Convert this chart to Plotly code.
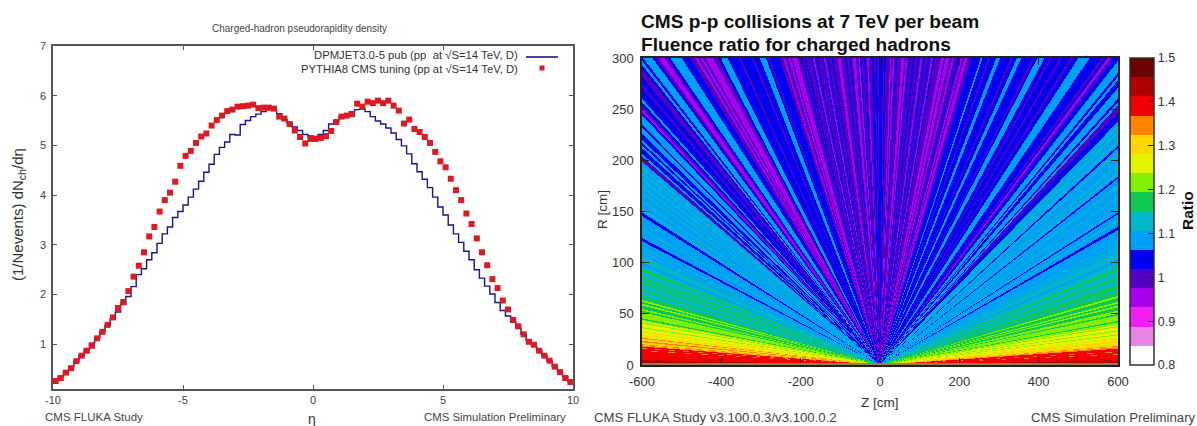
import numpy as np
import plotly.graph_objects as go

W, H = 1197, 426
FONT = "Liberation Sans"

# ---------- left panel data ----------
eta_centres = [round(-9.9 + 0.2 * i, 1) for i in range(100)]
dpmjet = [
    .27, .36, .45, .55, .66, .78, .90, 1.02, 1.13, 1.25,
    1.38, 1.51, 1.65, 1.80, 1.96, 2.16, 2.40, 2.52, 2.70, 2.84,
    3.03, 3.22, 3.36, 3.55, 3.67, 3.80, 3.96, 4.12, 4.28, 4.46,
    4.62, 4.82, 4.96, 5.07, 5.22, 5.21, 5.42, 5.50, 5.58, 5.63,
    5.68, 5.72, 5.72, 5.64, 5.52, 5.45, 5.37, 5.30, 5.22, 5.19,
    5.18, 5.22, 5.30, 5.43, 5.50, 5.59, 5.62, 5.68, 5.72, 5.73,
    5.68, 5.58, 5.49, 5.43, 5.35, 5.25, 5.12, 4.99, 4.83, 4.63,
    4.47, 4.32, 4.15, 3.96, 3.76, 3.60, 3.40, 3.22, 3.05, 2.87,
    2.70, 2.50, 2.33, 2.17, 2.01, 1.84, 1.68, 1.57, 1.44, 1.33,
    1.20, 1.08, .98, .87, .77, .66, .55, .45, .35, .26,
]
pythia = [
    .26, .32, .43, .52, .66, .77, .87, .97, 1.12, 1.25,
    1.39, 1.54, 1.73, 1.85, 2.07, 2.36, 2.58, 2.85, 3.17, 3.36,
    3.67, 3.90, 4.05, 4.27, 4.59, 4.79, 4.89, 5.05, 5.18, 5.24,
    5.40, 5.51, 5.60, 5.69, 5.72, 5.78, 5.79, 5.80, 5.82, 5.75,
    5.76, 5.76, 5.74, 5.58, 5.54, 5.43, 5.30, 5.17, 5.04, 5.13,
    5.13, 5.15, 5.19, 5.29, 5.47, 5.58, 5.60, 5.63, 5.84, 5.78,
    5.88, 5.85, 5.90, 5.85, 5.90, 5.80, 5.70, 5.44, 5.52, 5.33,
    5.27, 5.17, 5.05, 4.87, 4.68, 4.56, 4.33, 4.10, 3.90, 3.63,
    3.42, 3.13, 2.85, 2.59, 2.31, 2.13, 1.88, 1.70, 1.49, 1.36,
    1.20, 1.05, .99, .87, .77, .67, .55, .44, .32, .24,
]
eta_ticks = [-10, -5, 0, 5, 10]
eta_labels = ["-10", "-5", "0", "5", "10"]
dn_ticks = [1, 2, 3, 4, 5, 6, 7]

# ---------- right panel data: ratio read along rays, per pseudorapidity bin ----------
fine_width = 0.012     # |eta| below 2.4
coarse_width = 0.03    # |eta| from 2.4 upwards
fine_limit = 2.4
ratio_fine_pos = [
    1.04, 1.04, 1.00, 1.04, 1.00, 1.00, 1.00, .95, 1.00, .95,
    1.00, 1.04, 1.00, 1.00, 1.00, .95, .95, 1.00, .95, 1.00,
    1.04, 1.00, 1.00, 1.04, 1.00, 1.00, 1.04, 1.00, .95, 1.00,
    1.04, 1.00, 1.00, 1.04, 1.00, .95, 1.04, 1.00, 1.00, 1.00,
    1.00, .95, .95, 1.00, .95, .95, 1.00, 1.00, .95, 1.00,
    1.00, 1.04, 1.00, .95, 1.00, .95, .95, 1.00, 1.00, 1.04,
    1.04, 1.04, 1.04, 1.04, 1.08, 1.04, 1.04, 1.04, 1.00, 1.04,
    1.04, 1.04, 1.08, 1.08, 1.04, 1.04, 1.04, 1.04, 1.04, 1.00,
    1.04, 1.04, 1.08, 1.08, 1.04, 1.04, 1.04, 1.04, 1.04, 1.00,
    1.04, 1.08, 1.08, 1.08, 1.04, 1.04, 1.00, 1.04, 1.04, 1.04,
    1.00, 1.04, 1.04, 1.04, 1.00, 1.04, 1.04, 1.08, 1.08, 1.08,
    1.08, 1.04, 1.04, 1.04, 1.04, 1.00, 1.04, .95, 1.00, 1.04,
    1.04, 1.08, 1.08, 1.08, 1.04, 1.08, 1.04, 1.04, 1.08, 1.08,
    1.08, 1.04, 1.08, 1.00, 1.00, 1.04, 1.04, 1.04, 1.08, 1.13,
    1.08, 1.13, 1.08, 1.08, 1.13, 1.08, 1.04, 1.08, 1.13, 1.08,
    1.08, 1.08, 1.08, 1.13, 1.08, 1.08, 1.13, 1.08, 1.04, 1.08,
    1.08, 1.08, 1.13, 1.08, 1.08, 1.08, 1.08, 1.13, 1.08, 1.08,
    1.08, 1.08, 1.08, 1.13, 1.08, 1.04, 1.08, 1.08, 1.08, 1.13,
    1.08, 1.08, 1.08, 1.04, 1.04, 1.08, 1.08, 1.08, 1.08, 1.08,
    1.08, 1.08, 1.08, 1.13, 1.08, 1.08, 1.13, 1.08, 1.13, 1.08,
]
ratio_fine_neg = [
    1.04, 1.00, 1.04, 1.00, 1.04, 1.04, 1.00, 1.00, .95, 1.00,
    1.04, 1.00, 1.00, 1.04, .95, 1.00, 1.00, .95, .95, 1.00,
    1.04, 1.00, 1.00, 1.04, 1.00, 1.00, 1.00, .95, .95, 1.00,
    1.00, 1.00, 1.04, 1.00, 1.00, 1.04, 1.00, .95, 1.04, 1.00,
    1.00, 1.00, 1.04, 1.00, .95, 1.04, 1.00, 1.00, 1.00, 1.04,
    1.00, 1.04, 1.00, 1.00, .95, .95, .95, 1.00, .95, 1.00,
    1.00, .95, 1.00, 1.00, 1.04, 1.04, 1.04, 1.04, 1.04, 1.00,
    1.04, 1.08, 1.08, 1.08, 1.04, 1.04, 1.04, 1.00, 1.04, 1.04,
    1.04, 1.04, 1.04, 1.00, 1.04, 1.04, 1.04, 1.04, 1.04, 1.08,
    1.08, 1.08, 1.04, 1.00, 1.00, .95, .95, .95, 1.00, .95,
    1.00, .95, 1.00, 1.00, 1.04, 1.04, 1.04, 1.08, 1.08, 1.08,
    1.08, 1.04, 1.00, .95, .95, 1.00, 1.04, 1.08, 1.08, 1.08,
    1.04, 1.08, 1.04, 1.00, 1.00, 1.04, 1.04, 1.00, 1.04, 1.04,
    1.04, 1.08, 1.04, 1.00, .95, 1.04, 1.08, 1.08, 1.08, 1.04,
    1.08, 1.08, 1.04, 1.04, 1.08, 1.04, 1.08, 1.04, 1.04, 1.08,
    1.00, 1.00, 1.08, 1.08, 1.13, 1.08, 1.13, 1.08, 1.08, 1.13,
    1.08, 1.08, 1.13, 1.08, 1.08, 1.13, 1.08, 1.08, 1.08, 1.13,
    1.08, 1.08, 1.08, 1.13, 1.08, 1.04, 1.04, 1.08, 1.08, 1.08,
    1.08, 1.08, 1.08, 1.08, 1.13, 1.08, 1.08, 1.08, 1.08, 1.08,
    1.04, 1.04, 1.08, 1.08, 1.08, 1.08, 1.13, 1.08, 1.08, 1.13,
]
ratio_coarse_pos = [
    1.13, 1.13, 1.08, 1.13, 1.13, 1.17, 1.13, 1.13, 1.17, 1.13,
    1.13, 1.17, 1.17, 1.13, 1.17, 1.17, 1.22, 1.17, 1.17, 1.22,
    1.17, 1.22, 1.17, 1.17, 1.22, 1.22, 1.17, 1.22, 1.22, 1.22,
    1.22, 1.17, 1.22, 1.22, 1.26, 1.22, 1.26, 1.26, 1.26, 1.22,
    1.26, 1.26, 1.26, 1.22, 1.26, 1.26, 1.26, 1.26, 1.30, 1.26,
    1.26, 1.30, 1.30, 1.30, 1.26, 1.30, 1.30, 1.30, 1.30, 1.35,
    1.30, 1.35, 1.35, 1.35, 1.39, 1.39, 1.39, 1.39, 1.39, 1.39,
    1.39, 1.35, 1.39, 1.39, 1.39, 1.39, 1.39, 1.39, 1.35, 1.39,
    1.39, 1.39, 1.39, 1.39, 1.39, 1.39, 1.39, 1.39, 1.39, 1.39,
    1.39, 1.39, 1.39, 1.39, 1.39, 1.39, 1.39, 1.39, 1.39, 1.39,
    1.39, 1.39, 1.39, 1.39, 1.39, 1.43, 1.39, 1.43, 1.43, 1.43,
    1.43, 1.43, 1.43, 1.43, 1.43, 1.43, 1.43, 1.43, 1.43, 1.43,
]
ratio_coarse_neg = [
    1.08, 1.13, 1.13, 1.08, 1.13, 1.17, 1.13, 1.13, 1.17, 1.13,
    1.17, 1.13, 1.13, 1.17, 1.13, 1.13, 1.17, 1.17, 1.22, 1.17,
    1.22, 1.17, 1.17, 1.22, 1.17, 1.22, 1.22, 1.22, 1.22, 1.17,
    1.22, 1.26, 1.22, 1.26, 1.26, 1.26, 1.22, 1.26, 1.26, 1.26,
    1.30, 1.26, 1.26, 1.26, 1.30, 1.26, 1.30, 1.35, 1.30, 1.30,
    1.30, 1.35, 1.35, 1.30, 1.30, 1.30, 1.35, 1.30, 1.35, 1.35,
    1.39, 1.39, 1.39, 1.35, 1.39, 1.39, 1.39, 1.39, 1.35, 1.39,
    1.39, 1.39, 1.39, 1.39, 1.39, 1.39, 1.39, 1.39, 1.39, 1.39,
    1.39, 1.39, 1.39, 1.39, 1.39, 1.39, 1.39, 1.39, 1.39, 1.39,
    1.39, 1.39, 1.39, 1.39, 1.39, 1.39, 1.39, 1.39, 1.39, 1.39,
    1.39, 1.39, 1.39, 1.39, 1.43, 1.39, 1.43, 1.43, 1.43, 1.43,
    1.43, 1.43, 1.43, 1.43, 1.43, 1.43, 1.43, 1.43, 1.43, 1.43,
]
z_ticks = [-600, -400, -200, 0, 200, 400, 600]
z_labels = ["-600", "-400", "-200", "0", "200", "400", "600"]
r_ticks = [0, 50, 100, 150, 200, 250, 300]
ratio_min, ratio_max = 0.8, 1.5
ratio_ticks = [0.8, 0.9, 1.0, 1.1, 1.2, 1.3, 1.4, 1.5]
ratio_labels = ["0.8", "0.9", "1", "1.1", "1.2", "1.3", "1.4", "1.5"]
band_colours = [
    "#ffffff", "#ea84e4", "#f020f0", "#a800f0", "#5400c0", "#0000f0", "#00a0f8", "#00b8c8",
    "#10c850", "#80f000", "#e4f400", "#ffd400", "#ff8400", "#f00000", "#b00000", "#6c0000",
]


def px(x):
    return x / W


def py(y):
    return 1 - y / H


steps = []
for i, c in enumerate(band_colours):
    steps += [[i / len(band_colours), c], [(i + 1) / len(band_colours), c]]

# look the ratio up for each cell of the (Z, R) grid
z_cells = np.linspace(-600, 600, 477)[:-1] + 600 / 476
r_cells = np.linspace(0, 300, 308)[:-1] + 150 / 307
zz, rr = np.meshgrid(z_cells, r_cells)
abs_eta = np.abs(np.arcsinh(zz / rr))
fine_idx = np.minimum((abs_eta / fine_width).astype(int), len(ratio_fine_pos) - 1)
coarse_idx = np.clip(((abs_eta - fine_limit) / coarse_width).astype(int), 0, len(ratio_coarse_pos) - 1)
pos_grid = np.where(abs_eta < fine_limit, np.array(ratio_fine_pos)[fine_idx], np.array(ratio_coarse_pos)[coarse_idx])
neg_grid = np.where(abs_eta < fine_limit, np.array(ratio_fine_neg)[fine_idx], np.array(ratio_coarse_neg)[coarse_idx])
ratio_grid = np.where(zz >= 0, pos_grid, neg_grid)

fig = go.Figure()

fig.add_trace(go.Scatter(
    x=eta_centres, y=dpmjet, mode="lines", line=dict(color="#14148c", width=1.4, shape="hvh"),
    name="DPMJET3.0-5 pub (pp at √S=14 TeV, D)", xaxis="x", yaxis="y", showlegend=False,
))
fig.add_trace(go.Scatter(
    x=eta_centres, y=pythia, mode="markers", marker=dict(color="#dc1a22", size=6, symbol="square"),
    name="PYTHIA8 CMS tuning (pp at √S=14 TeV, D)", xaxis="x", yaxis="y", showlegend=False,
))
fig.add_trace(go.Heatmap(
    x=z_cells, y=r_cells, z=ratio_grid.astype("float32"), xaxis="x2", yaxis="y2",
    zmin=ratio_min, zmax=ratio_max, zsmooth=False, colorscale=steps, hoverinfo="skip",
    colorbar=dict(
        x=px(1130), xanchor="left", xpad=0, y=py(365), yanchor="bottom", ypad=0,
        len=307 / H, lenmode="fraction", thickness=24, thicknessmode="pixels",
        outlinecolor="#333333", outlinewidth=1.5,
        tickmode="array", tickvals=ratio_ticks, ticktext=ratio_labels,
        ticks="inside", ticklen=6, tickcolor="#222222", tickwidth=1,
        tickfont=dict(family=FONT, size=12.5, color="#333333"),
    ),
))

left_axis = dict(
    showgrid=False, zeroline=False, showline=True, mirror="ticks", linecolor="#555555", linewidth=1.5,
    ticks="inside", ticklen=4, tickcolor="#555555", tickwidth=1,
    tickfont=dict(family=FONT, size=11, color="#444444"),
)
right_axis = dict(
    showgrid=False, zeroline=False, showline=True, mirror="ticks", linecolor="#222222", linewidth=1.5,
    ticks="inside", ticklen=7, tickcolor="#222222", tickwidth=1,
    tickfont=dict(family=FONT, size=13, color="#333333"), ticklabelstandoff=4,
)


def note(x, y, text, size, anchor="left", color="#444444", angle=0, bold=False):
    if bold:
        text = f"<b>{text}</b>"
    return dict(
        x=px(x), y=py(y), xref="paper", yref="paper", text=text, showarrow=False, textangle=angle,
        xanchor=anchor, yanchor="middle", align=anchor,
        font=dict(family=FONT, size=size, color=color),
    )


notes = [
    note(299, 29, "Charged-hadron pseudorapidity density", 10, "center"),
    note(520, 55.5, "DPMJET3.0-5 pub (pp  at √S=14 TeV, D)", 11.3, "right", "#333333"),
    note(520, 69.5, "PYTHIA8 CMS tuning (pp at √S=14 TeV, D)", 11.3, "right", "#333333"),
    note(19, 215, "(1/Nevents) dN<sub>ch</sub>/dη", 15, "center", "#333333", -90),
    note(312, 419, "η", 14, "center", "#333333"),
    note(43, 417, "CMS FLUKA Study", 11.5),
    note(422, 417, "CMS Simulation Preliminary", 11.4),
    note(639, 21, "CMS p-p collisions at 7 TeV per beam", 19.1, color="#111111", bold=True),
    note(639, 45, "Fluence ratio for charged hadrons", 19.1, color="#111111", bold=True),
    note(602, 210, "R [cm]", 13.5, "center", "#333333", -90),
    note(880, 402, "Z [cm]", 13.5, "center", "#333333"),
    note(592, 417, "CMS FLUKA Study v3.100.0.3/v3.100.0.2", 13.2),
    note(1029, 417, "CMS Simulation Preliminary", 13.2),
    note(1188, 211, "Ratio", 15.5, "center", "#111111", -90, True),
]

decor = [
    dict(type="line", xref="paper", yref="paper", x0=px(526), x1=px(558), y0=py(57), y1=py(57),
         line=dict(color="#14148c", width=1.6)),
    dict(type="rect", xref="paper", yref="paper", x0=px(539.5), x1=px(544.5), y0=py(65.5), y1=py(70.5),
         fillcolor="#dc1a22", line=dict(width=0)),
    dict(type="line", xref="x2 domain", yref="paper", x0=0, x1=1, y0=py(364), y1=py(364),
         line=dict(color="#8c8450", width=2)),
]
# the colour bar's ticks also run along its left side
for t in ratio_ticks[1:-1]:
    tick_y = py(365) + (t - ratio_min) / (ratio_max - ratio_min) * (307 / H)
    decor.append(dict(type="line", xref="paper", yref="paper", x0=px(1130), x1=px(1136), y0=tick_y, y1=tick_y,
                      line=dict(color="#222222", width=1)))

fig.update_layout(
    width=W, height=H, autosize=False, margin=dict(l=0, r=0, t=0, b=0, autoexpand=False),
    paper_bgcolor="white", plot_bgcolor="white", showlegend=False,
    xaxis=dict(left_axis, domain=[px(53), px(573)], range=[-10, 10], tickvals=eta_ticks, ticktext=eta_labels, anchor="y"),
    yaxis=dict(left_axis, domain=[py(389), py(46)], range=[0.1, 7], tickvals=dn_ticks, anchor="x", ticklabelstandoff=3),
    xaxis2=dict(right_axis, domain=[px(642), px(1118)], range=[-600, 600], tickvals=z_ticks, ticktext=z_labels, anchor="y2"),
    yaxis2=dict(right_axis, domain=[py(365), py(58)], range=[0, 300], tickvals=r_ticks, anchor="x2"),
    annotations=notes, shapes=decor,
)

fig.write_html(
    "out.html",
    config={"displayModeBar": False},
    post_script=(
        "document.documentElement.style.margin='0';document.body.style.margin='0';"
        "document.body.style.overflow='hidden';"
        "var g=document.getElementById('{plot_id}');g.style.position='absolute';g.style.left='0';g.style.top='0';"
    ),
)
